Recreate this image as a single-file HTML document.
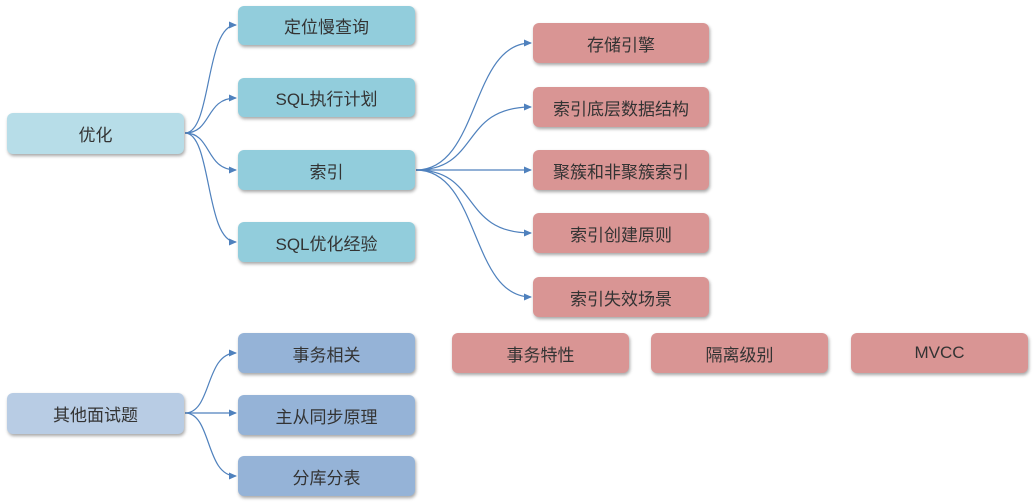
<!DOCTYPE html>
<html><head><meta charset="utf-8"><style>
body{margin:0;width:1034px;height:503px;background:#fff;position:relative;overflow:hidden;font-family:"Liberation Sans","Noto Sans CJK SC",sans-serif;}
.b{position:absolute;border-radius:6px;display:flex;align-items:center;justify-content:center;font-size:17px;color:#333;box-shadow:1px 2px 3px rgba(0,0,0,0.35);}
.r{background:#b7dde8}.c{background:#92cddc}.p{background:#d99594}.l{background:#b8cce4}.v{background:#95b3d7}
svg{position:absolute;left:0;top:0}
</style></head><body>
<svg width="1034" height="503">
<defs><marker id="a" markerWidth="8" markerHeight="8" refX="7" refY="4" orient="auto" markerUnits="userSpaceOnUse"><path d="M0,0.5 L8,4 L0,7.5 z" fill="#4f81bd"/></marker></defs>
<g fill="none" stroke="#4f81bd" stroke-width="1.2" marker-end="url(#a)">
<path d="M185,133 C212,133 205,25 236,25"/>
<path d="M185,133 C212,133 205,98 236,98"/>
<path d="M185,133 C212,133 205,170 236,170"/>
<path d="M185,133 C212,133 205,242 236,242"/>
<path d="M416,170 C480,170 470,43 531,43"/>
<path d="M416,170 C480,170 460,107 531,107"/>
<path d="M416,170 L531,170"/>
<path d="M416,170 C480,170 460,233 531,233"/>
<path d="M416,170 C480,170 470,297 531,297"/>
<path d="M185,413 C212,413 205,353 236,353"/>
<path d="M185,413 L236,413"/>
<path d="M185,413 C212,413 205,476 236,476"/>
</g></svg>
<div class="b r" style="left:7px;top:113px;width:177px;height:41px">优化</div>
<div class="b c" style="left:238px;top:6px;width:177px;height:39px">定位慢查询</div>
<div class="b c" style="left:238px;top:78px;width:177px;height:39px">SQL执行计划</div>
<div class="b c" style="left:238px;top:150px;width:177px;height:40px">索引</div>
<div class="b c" style="left:238px;top:222px;width:177px;height:40px">SQL优化经验</div>
<div class="b p" style="left:533px;top:23px;width:176px;height:40px">存储引擎</div>
<div class="b p" style="left:533px;top:87px;width:176px;height:40px">索引底层数据结构</div>
<div class="b p" style="left:533px;top:150px;width:176px;height:40px">聚簇和非聚簇索引</div>
<div class="b p" style="left:533px;top:213px;width:176px;height:40px">索引创建原则</div>
<div class="b p" style="left:533px;top:277px;width:176px;height:40px">索引失效场景</div>
<div class="b l" style="left:7px;top:393px;width:177px;height:41px">其他面试题</div>
<div class="b v" style="left:238px;top:333px;width:177px;height:40px">事务相关</div>
<div class="b v" style="left:238px;top:395px;width:177px;height:40px">主从同步原理</div>
<div class="b v" style="left:238px;top:456px;width:177px;height:40px">分库分表</div>
<div class="b p" style="left:452px;top:333px;width:177px;height:40px">事务特性</div>
<div class="b p" style="left:651px;top:333px;width:177px;height:40px">隔离级别</div>
<div class="b p" style="left:851px;top:333px;width:177px;height:40px">MVCC</div>
</body></html>
